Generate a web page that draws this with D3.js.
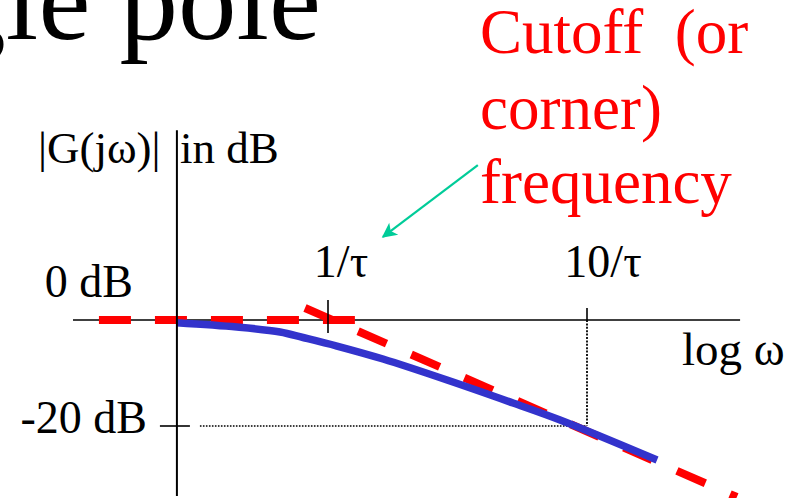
<!DOCTYPE html>
<html>
<head>
<meta charset="utf-8">
<script src="https://cdn.jsdelivr.net/npm/d3@7"></script>
<style>
  html, body { margin: 0; padding: 0; background: #fff; }
  svg { display: block; }
  text { font-family: "Liberation Serif", "Times New Roman", serif; }
</style>
</head>
<body>
<svg id="chart" width="806" height="498"></svg>
<script>
// Exact magnitude response of a single pole, |G(jω)| in dB
const omegaExact = [0.261, 0.445, 0.653, 0.801, 1.083, 1.631, 2.881, 5.18, 7.87, 18.64];
const gainExact  = [-0.51, -1.32, -2.26, -3.30, -4.91, -7.36, -11.32, -15.66, -18.87, -26.42];

// Straight-line (asymptotic) approximation: flat part and roll-off part
const omegaFlat = [0.1305, 1.27];
const gainFlat  = [0, 0];
const omegaRoll = [0.815, 37.9];
const gainRoll  = [2.26, -33.4];

// Axis ticks
const freqTicks  = [1, 10];
const freqLabels = ["1/\u03C4", "10/\u03C4"];
const gainTicks  = [0, -20];
const gainLabels = ["0 dB", "-20 dB"];

// Axis extents
const omegaAxis = [0.1036, 39];
const omegaOrigin = 0.261;
const gainAxis = [35.8, -33.2];

const svg = d3.select("#chart");

const x = d3.scaleLog().domain([1, 10]).range([328, 587]);
const y = d3.scaleLinear().domain([0, -20]).range([320, 426]);

const red = "#ff0000", blue = "#3333cc", teal = "#00cc99";

// Slide title (runs off the left edge)
svg.append("text")
  .attr("x", 321).attr("y", 39)
  .attr("text-anchor", "end")
  .attr("font-size", 117)
  .attr("fill", "#000")
  .text("Single pole");

// Horizontal frequency axis (0 dB line)
svg.append("line")
  .attr("x1", x(omegaAxis[0])).attr("x2", x(omegaAxis[1]))
  .attr("y1", y(0)).attr("y2", y(0))
  .attr("stroke", "#000").attr("stroke-width", 1.6);

// Dotted guides to the -20 dB point at 10/τ
svg.append("line")
  .attr("x1", x(omegaOrigin) + 23).attr("x2", x(10))
  .attr("y1", y(-20)).attr("y2", y(-20))
  .attr("stroke", "#000").attr("stroke-width", 1.5)
  .attr("stroke-dasharray", "1.6,1.4");
svg.append("line")
  .attr("x1", x(10)).attr("x2", x(10))
  .attr("y1", y(0)).attr("y2", y(-20))
  .attr("stroke", "#000").attr("stroke-width", 1.8)
  .attr("stroke-dasharray", "2,1.4");

// Asymptotes
const line = d3.line().x(d => x(d[0])).y(d => y(d[1]));
svg.append("path")
  .datum(omegaFlat.map((w, i) => [w, gainFlat[i]]))
  .attr("d", line)
  .attr("fill", "none").attr("stroke", red).attr("stroke-width", 8)
  .attr("stroke-dasharray", "32,24");
svg.append("path")
  .datum(omegaRoll.map((w, i) => [w, gainRoll[i]]))
  .attr("d", line)
  .attr("fill", "none").attr("stroke", red).attr("stroke-width", 8)
  .attr("stroke-dasharray", "31,27");

// Exact response
svg.append("path")
  .datum(omegaExact.map((w, i) => [w, gainExact[i]]))
  .attr("d", d3.line().x(d => x(d[0])).y(d => y(d[1])).curve(d3.curveCatmullRom.alpha(0.5)))
  .attr("fill", "none").attr("stroke", blue).attr("stroke-width", 7.5);

// Vertical magnitude axis
svg.append("line")
  .attr("x1", x(omegaOrigin)).attr("x2", x(omegaOrigin))
  .attr("y1", y(gainAxis[0])).attr("y2", y(gainAxis[1]))
  .attr("stroke", "#000").attr("stroke-width", 2);

// Frequency ticks and labels
const tickUp = [20, 12], tickDown = [13, 0], labelDx = [13, 16];
freqTicks.forEach((w, i) => {
  svg.append("line")
    .attr("x1", x(w)).attr("x2", x(w))
    .attr("y1", y(0) - tickUp[i]).attr("y2", y(0) + tickDown[i])
    .attr("stroke", "#000").attr("stroke-width", 1.6);
  svg.append("text")
    .attr("x", x(w) + labelDx[i]).attr("y", y(0) - 43)
    .attr("text-anchor", "middle")
    .attr("font-size", 46)
    .text(freqLabels[i]);
});

// Gain tick at -20 dB and gain labels
svg.append("line")
  .attr("x1", x(omegaOrigin) - 17).attr("x2", x(omegaOrigin) + 13)
  .attr("y1", y(-20)).attr("y2", y(-20))
  .attr("stroke", "#000").attr("stroke-width", 1.6);
const gainLabelDx = [-44, -30], gainLabelDy = [-23, 7];
gainTicks.forEach((g, i) => {
  svg.append("text")
    .attr("x", x(omegaOrigin) + gainLabelDx[i]).attr("y", y(g) + gainLabelDy[i])
    .attr("text-anchor", "end")
    .attr("font-size", 46)
    .text(gainLabels[i]);
});

// Axis titles
svg.append("text")
  .attr("x", x(omegaOrigin) - 139).attr("y", 163)
  .attr("font-size", 45)
  .text("|G(j\u03C9)|");
svg.append("text")
  .attr("x", x(omegaOrigin) + 3).attr("y", 163)
  .attr("font-size", 45)
  .text("in dB");
svg.append("text")
  .attr("x", 682).attr("y", 365)
  .attr("font-size", 47)
  .text("log \u03C9");

// Corner frequency annotation
const note = svg.append("text")
  .attr("x", 480).attr("fill", red)
  .attr("font-size", 63);
["Cutoff\u00A0\u00A0(or", "corner)", "frequency"].forEach((t, i) => {
  note.append("tspan").attr("x", 480).attr("y", [53, 129, 203][i]).text(t);
});

// Arrow pointing toward the corner frequency
svg.append("defs").append("marker")
  .attr("id", "head")
  .attr("viewBox", "0 0 10 10")
  .attr("refX", 9).attr("refY", 5)
  .attr("markerUnits", "userSpaceOnUse")
  .attr("markerWidth", 19).attr("markerHeight", 15)
  .attr("orient", "auto")
  .append("path")
  .attr("d", "M0,0 L10,5 L0,10 L2.5,5 Z")
  .attr("fill", teal);
svg.append("line")
  .attr("x1", x(3.79)).attr("y1", y(29.2))
  .attr("x2", x(1.63)).attr("y2", y(15.7))
  .attr("stroke", teal).attr("stroke-width", 2.2)
  .attr("marker-end", "url(#head)");
</script>
</body>
</html>
